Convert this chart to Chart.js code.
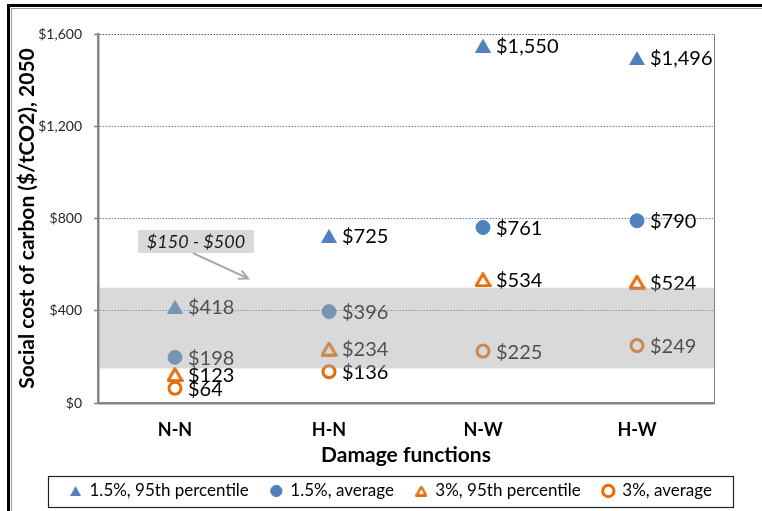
<!DOCTYPE html>
<html><head><meta charset="utf-8">
<script src="https://cdn.jsdelivr.net/npm/chart.js@4.4.1/dist/chart.umd.min.js"></script>
<style>
html,body{margin:0;padding:0;background:#fff;}
#wrap{position:relative;width:762px;height:511px;overflow:hidden;}
#f1{position:absolute;left:7px;top:4px;width:900px;height:700px;border-top:3px solid #000;border-left:3px solid #000;}
#f2{position:absolute;left:11px;top:8px;width:900px;height:700px;border-top:1px solid #9a9a9a;border-left:1px solid #9a9a9a;}
canvas{position:absolute;left:0;top:0;}
</style></head><body>
<div id="wrap"><div id="f1"></div><div id="f2"></div><canvas id="c" width="762" height="511"></canvas></div>
<script>
// ---- data ----
const categories = ['N-N', 'H-N', 'N-W', 'H-W'];
const seriesNames = ['1.5%, 95th percentile', '1.5%, average', '3%, 95th percentile', '3%, average'];
const p95_15 = [418, 725, 1550, 1496];
const avg_15 = [198, 396, 761, 790];
const p95_3 = [123, 234, 534, 524];
const avg_3 = [64, 136, 225, 249];
const yTickValues = [0, 400, 800, 1200, 1600];
const yTickLabels = ['$0', '$400', '$800', '$1,200', '$1,600'];
const bandRange = [150, 500];
const bandLabel = '$150 - $500';
const xTitle = 'Damage functions';
const yTitle = 'Social cost of carbon ($/tCO2), 2050';

// ---- styles ----
const BLUE = '#4f81bd';
const ORANGE = '#e46c0a';
const FONT = 'Lato, "Open Sans", sans-serif';

function triImg(w, h, fill, stroke, lw) {
  const c = document.createElement('canvas');
  c.width = w; c.height = h;
  const g = c.getContext('2d');
  const i = lw ? lw / 2 : 0;
  g.beginPath();
  g.moveTo(w / 2, i);
  g.lineTo(w - i, h - i);
  g.lineTo(i, h - i);
  g.closePath();
  if (fill) { g.fillStyle = fill; g.fill(); }
  if (stroke) { g.lineJoin = 'round'; g.lineWidth = lw; g.strokeStyle = stroke; g.stroke(); }
  return c;
}
const triBlue = triImg(16, 14, BLUE, null, 0);
const triOrange = triImg(17, 15, null, ORANGE, 3);
const triBlueSmall = triImg(11, 10, BLUE, null, 0);
const triOrangeSmall = triImg(12, 11, null, ORANGE, 2.5);
const legendStyles = [triBlueSmall, 'circle', triOrangeSmall, 'circle'];

const fmt = v => '$' + v.toLocaleString('en-US');

const plotPlugin = {
  id: 'plotExtras',
  afterDatasetsDraw(chart) {
    const ctx = chart.ctx;
    const ca = chart.chartArea;
    const y = chart.scales.y;
    // data labels
    ctx.save();
    ctx.font = '20px ' + FONT;
    ctx.fillStyle = '#000';
    ctx.textAlign = 'left';
    ctx.textBaseline = 'middle';
    chart.data.datasets.forEach((ds, di) => {
      const meta = chart.getDatasetMeta(di);
      meta.data.forEach((pt, i) => {
        ctx.fillText(fmt(ds.data[i]), pt.x + 13, pt.y + 1);
      });
    });
    // translucent range band on top of the plot
    const yTop = y.getPixelForValue(bandRange[1]);
    const yBot = y.getPixelForValue(bandRange[0]);
    ctx.fillStyle = 'rgba(171,171,171,0.45)';
    ctx.fillRect(ca.left + 1, yTop, ca.right - ca.left - 1, yBot - yTop);
    ctx.restore();
  },
  afterDraw(chart) {
    const ctx = chart.ctx;
    const x = chart.scales.x;
    const y = chart.scales.y;
    // callout box
    const cx = x.getPixelForValue(0) + 21;
    const cy = y.getPixelForValue(700);
    const bw = 116, bh = 23;
    ctx.save();
    ctx.fillStyle = '#d9d9d9';
    ctx.fillRect(cx - bw / 2, cy - bh / 2, bw, bh);
    ctx.font = 'italic 18px ' + FONT;
    ctx.fillStyle = '#1a1a1a';
    ctx.textAlign = 'center';
    ctx.textBaseline = 'middle';
    ctx.fillText(bandLabel, cx, cy + 1);
    // arrow
    const ax0 = cx - 3, ay0 = cy + bh / 2;
    const ax1 = cx + 52, ay1 = y.getPixelForValue(540);
    ctx.strokeStyle = '#a6a6a6';
    ctx.lineWidth = 2;
    ctx.beginPath();
    ctx.moveTo(ax0, ay0);
    ctx.lineTo(ax1, ay1);
    const ang = Math.atan2(ay1 - ay0, ax1 - ax0);
    const L = 10;
    ctx.moveTo(ax1 - L * Math.cos(ang - 0.45), ay1 - L * Math.sin(ang - 0.45));
    ctx.lineTo(ax1, ay1);
    ctx.lineTo(ax1 - L * Math.cos(ang + 0.45), ay1 - L * Math.sin(ang + 0.45));
    ctx.stroke();
    // legend frame
    const hb = chart.legend.legendHitBoxes;
    if (hb && hb.length) {
      const first = hb[0], last = hb[hb.length - 1];
      const midY = first.top + first.height / 2;
      const l = first.left - 22, r = last.left + last.width + 21;
      ctx.strokeStyle = '#222';
      ctx.lineWidth = 1.2;
      ctx.strokeRect(Math.round(l) + 0.5, Math.round(midY - 15.5) + 0.5, Math.round(r - l), 31);
    }
    ctx.restore();
  }
};

new Chart(document.getElementById('c'), {
  type: 'line',
  data: {
    labels: categories,
    datasets: [
      { label: seriesNames[0], data: p95_15, pointStyle: triBlue, pointRadius: 8, backgroundColor: BLUE, borderColor: BLUE, borderWidth: 1 },
      { label: seriesNames[1], data: avg_15, pointStyle: 'circle', pointRadius: 7, backgroundColor: BLUE, borderColor: BLUE, borderWidth: 1 },
      { label: seriesNames[2], data: p95_3, pointStyle: triOrange, pointRadius: 8, backgroundColor: 'rgba(0,0,0,0)', borderColor: ORANGE, borderWidth: 3 },
      { label: seriesNames[3], data: avg_3, pointStyle: 'circle', pointRadius: 6, backgroundColor: 'rgba(0,0,0,0)', borderColor: ORANGE, borderWidth: 3 }
    ].map(d => Object.assign(d, { showLine: false, fill: false }))
  },
  options: {
    responsive: false,
    animation: false,
    events: [],
    layout: { padding: { left: 20, top: 34, right: 0, bottom: 1.5 } },
    scales: {
      x: {
        type: 'category',
        offset: true,
        grid: { display: false, drawTicks: false },
        border: { display: true, color: '#868686', width: 2.5 },
        ticks: { color: '#000', font: { family: FONT, size: 18, weight: 'bold' }, padding: 16 },
        title: { display: true, text: xTitle, color: '#000', font: { family: FONT, size: 21, weight: 'bold', lineHeight: 1.2 }, padding: { top: 4, bottom: -7.1 } },
        afterFit(s) { s.height = 57.5; }
      },
      y: {
        min: 0, max: 1600,
        afterBuildTicks(s) { s.ticks = yTickValues.map(v => ({ value: v })); },
        ticks: {
          color: '#262626', font: { family: FONT, size: 14 }, padding: 12,
          callback: v => { const i = yTickValues.indexOf(v); return i >= 0 ? yTickLabels[i] : ''; }
        },
        grid: {
          color: c => c.tick && c.tick.value === 0 ? 'rgba(0,0,0,0)' : (c.tick && c.tick.value === 1600 ? '#3f5f86' : '#5b86c0'),
          lineWidth: 1,
          drawTicks: true, tickLength: 4, tickColor: '#868686', tickWidth: 1.5, tickBorderDash: []
        },
        border: { display: true, color: '#868686', width: 2.5, dash: [1.5, 1.5] },
        title: { display: true, text: yTitle, color: '#000', font: { family: FONT, size: 21, weight: 'bold', lineHeight: 1.2 }, padding: { top: -5.6, bottom: 0 } },
        afterFit(s) { s.width = 78; }
      },
      yR: {
        position: 'right', min: 0, max: 1600,
        grid: { display: false, drawOnChartArea: false, drawTicks: false },
        ticks: { display: false },
        border: { display: true, color: '#808080', width: 1 },
        afterFit(s) { s.width = 48; }
      }
    },
    plugins: {
      tooltip: { enabled: false },
      legend: {
        position: 'bottom',
        labels: {
          usePointStyle: true,
          boxWidth: 11, boxHeight: 8,
          padding: 22,
          color: '#000',
          font: { family: FONT, size: 17 },
          generateLabels(chart) {
            const items = Chart.defaults.plugins.legend.labels.generateLabels(chart);
            items.forEach((it, i) => { it.pointStyle = legendStyles[i]; });
            return items;
          }
        }
      }
    }
  },
  plugins: [plotPlugin]
});
</script>
</body></html>
